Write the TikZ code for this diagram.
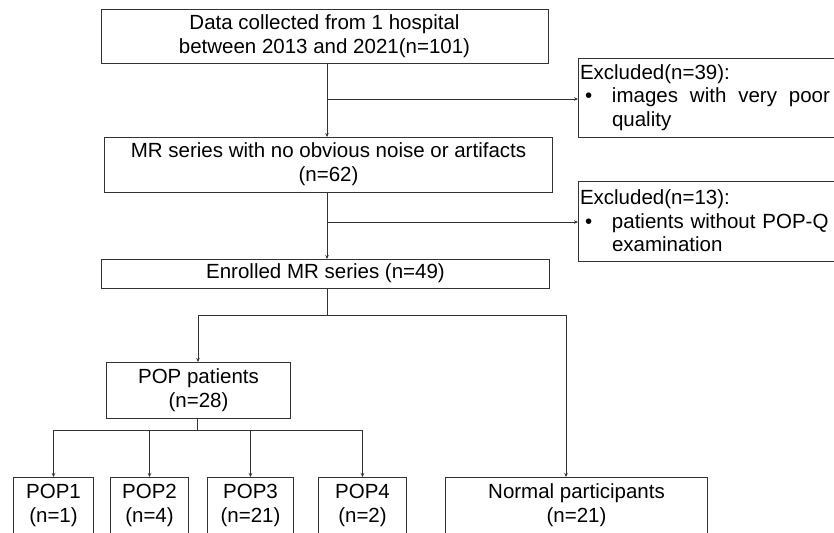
\documentclass[tikz,border=0pt]{standalone}
\usepackage{fontspec}
\setmainfont{Liberation Sans}
\usetikzlibrary{arrows.meta,positioning,calc}
\tikzset{
  stage/.style={draw=black!80, line width=0.8pt, align=center, inner sep=2pt, outer sep=0pt,
                font=\fontsize{20.5}{24}\selectfont},
  excl/.style={draw=black!80, line width=0.8pt, align=left, text width=262pt, inner sep=2pt,
               outer sep=0pt, anchor=north west, font=\fontsize{20.5}{23.5}\selectfont},
  flow/.style={-{Stealth[length=4pt,width=3.5pt]}, line width=0.8pt, draw=black!80},
  link/.style={line width=0.8pt, draw=black!80},
}
\newcommand{\exbullet}{\makebox[32pt][l]{\hspace{5pt}\textbullet}}

\begin{document}
\begin{tikzpicture}[x=1pt, y=1pt, node distance=74pt]
  \useasboundingbox (0,0) rectangle (834,-532);
  \clip (0,0) rectangle (834,-532);
  \node[stage, minimum width=447pt, minimum height=54pt] (data) at (324.5,-36)
    {Data collected from 1 hospital\\ between 2013 and 2021(n=101)};
  \node[stage, minimum width=448pt, minimum height=55pt, below=74pt of data, xshift=4pt] (mr)
    {MR series with no obvious noise or artifacts\\ (n=62)};
  \node[stage, minimum width=448pt, minimum height=29pt, below=67pt of mr, xshift=-3pt] (enr)
    {Enrolled MR series (n=49)};
  \node[stage, minimum width=184pt, minimum height=56pt, below=74pt of enr, xshift=-127pt] (pop)
    {POP patients\\ (n=28)};
  \node[stage, minimum width=80pt, minimum height=56pt, below=59pt of pop, xshift=-145pt] (p1)
    {POP1\\ (n=1)};
  \node[stage, minimum width=78pt, minimum height=56pt, below=59pt of pop, xshift=-49pt] (p2)
    {POP2\\ (n=4)};
  \node[stage, minimum width=86pt, minimum height=56pt, below=59pt of pop, xshift=52pt] (p3)
    {POP3\\ (n=21)};
  \node[stage, minimum width=88pt, minimum height=56pt, below=59pt of pop, xshift=164pt] (p4)
    {POP4\\ (n=2)};
  \node[stage, minimum width=262pt, minimum height=56pt, below=59pt of pop, xshift=378pt] (normal)
    {Normal participants\\ (n=21)};
  \node[excl, minimum height=79pt] (ex1) at (578,-58)
    {Excluded(n=39):\\ \exbullet\hbox to 218pt{images\hfill with\hfill very\hfill poor}\\
     \hspace*{32pt}quality};
  \node[excl, minimum height=80pt] (ex2) at (578,-181)
    {Excluded(n=13):\\ \exbullet patients without POP-Q\\ \hspace*{32pt}examination};
  % junctions
  \coordinate (j1) at (327,-99);
  \coordinate (j2) at (327,-222);
  \coordinate (j3) at (327,-315);
  \coordinate (j3l) at (198,-315);
  \coordinate (j3r) at (566,-315);
  \coordinate (j4) at (197,-430);
  \draw[flow] (data.south -| j1) -- (mr.north -| j1);
  \draw[flow] (j1) -- (ex1.west |- j1);
  \draw[flow] (mr.south -| j2) -- (enr.north -| j2);
  \draw[flow] (j2) -- (ex2.west |- j2);
  \draw[link] (enr.south -| j3) -- (j3);
  \draw[link] (j3l) -- (j3r);
  \draw[flow] (j3l) -- (pop.north -| j3l);
  \draw[flow] (j3r) -- (normal.north -| j3r);
  \draw[link] (pop.south -| j4) -- (j4);
  \draw[link] (p1.north |- j4) -- (p4.north |- j4);
  \draw[flow] (p1.north |- j4) -- (p1.north);
  \draw[flow] (p2.north |- j4) -- (p2.north);
  \draw[flow] (p3.north |- j4) -- (p3.north);
  \draw[flow] (p4.north |- j4) -- (p4.north);
\end{tikzpicture}
\end{document}
